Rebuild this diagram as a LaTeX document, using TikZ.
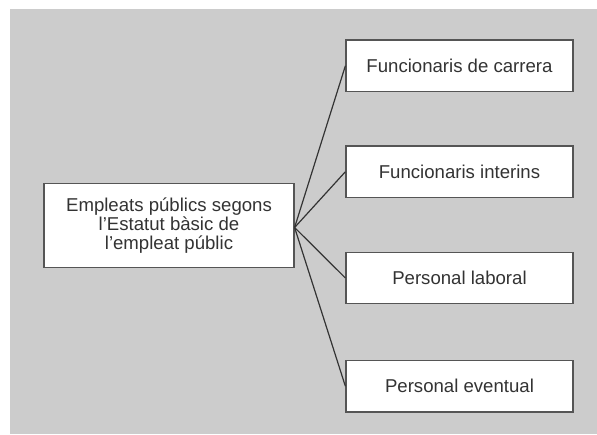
\documentclass[tikz,border=0pt]{standalone}
\usepackage{fontspec}
\setmainfont{Liberation Sans}
\definecolor{panel}{HTML}{CCCCCC}
\definecolor{ink}{HTML}{333333}
\definecolor{frame}{HTML}{555555}
\begin{document}
\begin{tikzpicture}[x=1pt,y=-1pt,
  box/.style={draw=frame, line width=1.2pt, fill=white, inner sep=0pt,
    text=ink, font=\fontsize{18.6}{19.3}\selectfont, align=center},
  leaf/.style={box, minimum width=227pt, minimum height=51.5pt},
  link/.style={draw=ink, line width=1.2pt}]
  \useasboundingbox (0,0) rectangle (597,434);
  \fill[panel] (10,9) rectangle (597,434);

  \node[box, minimum width=250pt, minimum height=84.5pt] (root) at (169,225.5)
    {Empleats públics segons\\l’Estatut bàsic de\\l’empleat públic};

  \node[leaf] (carrera)  at (459.5,65.7)  {Funcionaris de carrera};
  \node[leaf] (interins) at (459.5,171.7) {Funcionaris interins};
  \node[leaf] (laboral)  at (459.5,278)   {Personal laboral};
  \node[leaf] (eventual) at (459.5,386.3) {Personal eventual};

  \coordinate (hub) at ([yshift=-2pt]root.east);
  \foreach \t in {carrera,interins,laboral,eventual}
    \draw[link] (hub) -- (\t.west);
\end{tikzpicture}
\end{document}
